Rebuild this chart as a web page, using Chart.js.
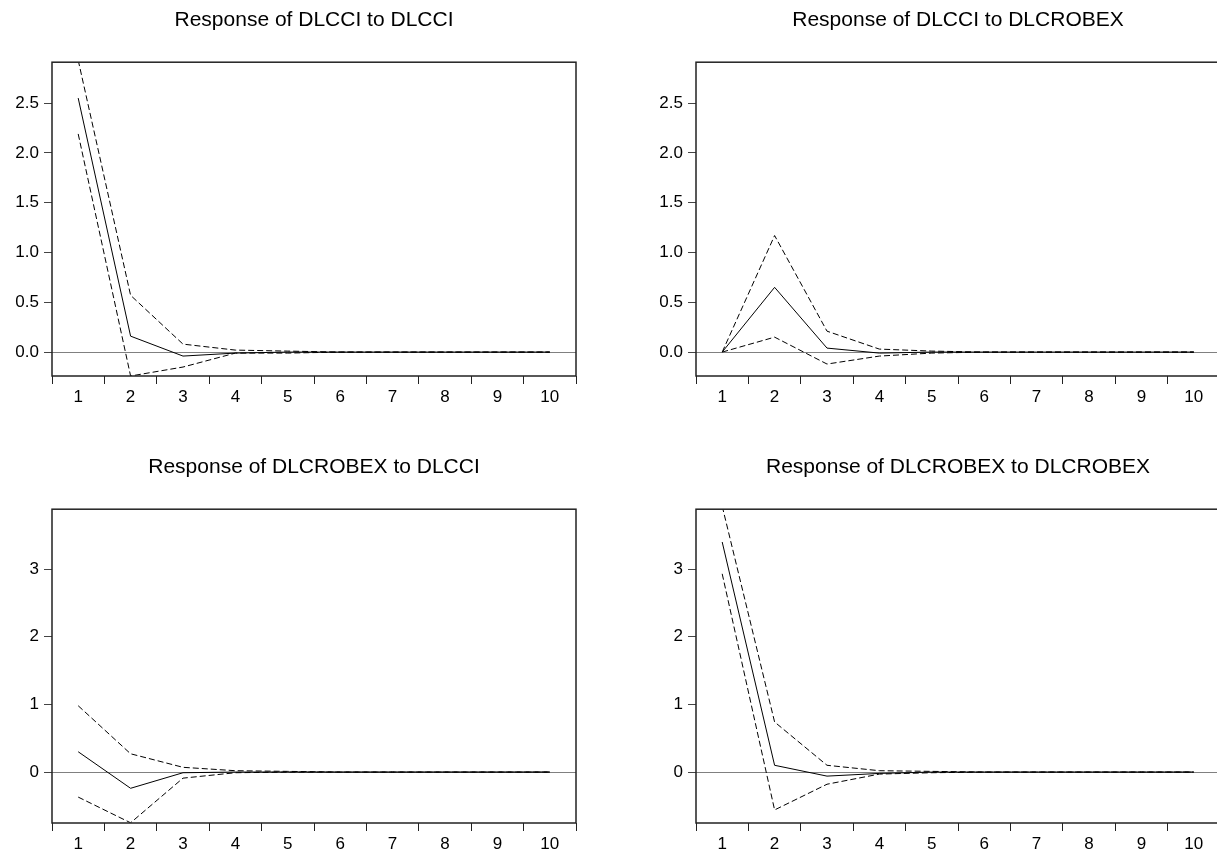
<!DOCTYPE html>
<html>
<head>
<meta charset="utf-8">
<script src="https://cdn.jsdelivr.net/npm/chart.js@4/dist/chart.umd.min.js"></script>
<style>
  html, body { margin: 0; padding: 0; background: #fff; overflow: hidden; }
  body { width: 1217px; height: 852px; position: relative; }
  canvas { position: absolute; }
</style>
</head>
<body>
<canvas id="c1" style="left:0;top:0"></canvas>
<canvas id="c2" style="left:644px;top:0"></canvas>
<canvas id="c3" style="left:0;top:447px"></canvas>
<canvas id="c4" style="left:644px;top:447px"></canvas>
<script>
const periods = ["1", "2", "3", "4", "5", "6", "7", "8", "9", "10"];

// Response of DLCCI to DLCCI
const resp11 = [2.55, 0.16, -0.04, -0.01, 0, 0, 0, 0, 0, 0];
const upper11 = [2.93, 0.57, 0.08, 0.02, 0.01, 0, 0, 0, 0, 0];
const lower11 = [2.19, -0.24, -0.15, -0.01, -0.01, 0, 0, 0, 0, 0];

// Response of DLCCI to DLCROBEX
const resp12 = [0, 0.65, 0.04, -0.01, 0, 0, 0, 0, 0, 0];
const upper12 = [0, 1.17, 0.21, 0.03, 0.01, 0, 0, 0, 0, 0];
const lower12 = [0, 0.15, -0.12, -0.04, -0.01, 0, 0, 0, 0, 0];

// Response of DLCROBEX to DLCCI
const resp21 = [0.30, -0.24, -0.01, 0, 0, 0, 0, 0, 0, 0];
const upper21 = [0.98, 0.27, 0.07, 0.02, 0.01, 0, 0, 0, 0, 0];
const lower21 = [-0.37, -0.75, -0.09, -0.01, 0, 0, 0, 0, 0, 0];

// Response of DLCROBEX to DLCROBEX
const resp22 = [3.40, 0.10, -0.06, -0.02, 0, 0, 0, 0, 0, 0];
const upper22 = [3.93, 0.74, 0.10, 0.02, 0.01, 0, 0, 0, 0, 0];
const lower22 = [2.93, -0.56, -0.18, -0.03, -0.01, 0, 0, 0, 0, 0];

const topRange = { min: -0.24, max: 2.91, step: 0.5, digits: 1 };
const bottomRange = { min: -0.753, max: 3.885, step: 1, digits: 0 };

const FONT = "'Liberation Sans', Arial, sans-serif";

const framePlugin = {
  id: "frame",
  afterDraw(chart) {
    const a = chart.chartArea;
    const ctx = chart.ctx;
    ctx.save();
    ctx.strokeStyle = "#222";
    ctx.lineWidth = 1.5;
    ctx.strokeRect(a.left, a.top, a.right - a.left, a.bottom - a.top);
    ctx.restore();
  },
};

function lineSet(data, dashed) {
  return {
    data: data,
    borderColor: "#000",
    borderWidth: 1,
    borderDash: dashed ? [6, 3] : [],
    pointRadius: 0,
    tension: 0,
    fill: false,
  };
}

function makeChart(id, title, resp, upper, lower, range) {
  const canvas = document.getElementById(id);
  canvas.width = 600;
  canvas.height = 430;
  canvas.style.width = "600px";
  canvas.style.height = "430px";

  return new Chart(canvas, {
    type: "line",
    data: {
      labels: periods,
      datasets: [
        lineSet(resp, false),
        lineSet(upper, true),
        lineSet(lower, true),
      ],
    },
    plugins: [framePlugin],
    options: {
      responsive: false,
      animation: false,
      layout: { padding: { left: 0, right: 24, top: 0, bottom: 0 } },
      plugins: {
        legend: { display: false },
        tooltip: { enabled: false },
        title: {
          display: true,
          text: title,
          fullSize: false,
          color: "#000",
          font: { family: FONT, size: 21, weight: "normal", lineHeight: 1.2 },
          padding: { top: 8, bottom: 29 },
        },
      },
      scales: {
        x: {
          type: "category",
          offset: true,
          afterFit: (s) => { s.height = 54; },
          border: { display: false },
          grid: {
            offset: true,
            drawOnChartArea: false,
            drawTicks: true,
            tickLength: 8,
            color: "#222",
            lineWidth: 1,
          },
          ticks: {
            color: "#000",
            padding: 3,
            maxRotation: 0,
            autoSkip: false,
            font: { family: FONT, size: 17 },
          },
        },
        y: {
          min: range.min,
          max: range.max,
          afterFit: (s) => { s.width = 52; },
          border: { display: false },
          grid: {
            drawTicks: true,
            tickLength: 8,
            color: (c) => (c.tick && c.tick.value === 0 ? "#808080" : "rgba(0,0,0,0)"),
            tickColor: "#444",
            lineWidth: 1,
          },
          ticks: {
            stepSize: range.step,
            includeBounds: false,
            color: "#000",
            padding: 5,
            font: { family: FONT, size: 17 },
            callback: (v) => Number(v).toFixed(range.digits),
          },
        },
      },
    },
  });
}

makeChart("c1", "Response of DLCCI to DLCCI", resp11, upper11, lower11, topRange);
makeChart("c2", "Response of DLCCI to DLCROBEX", resp12, upper12, lower12, topRange);
makeChart("c3", "Response of DLCROBEX to DLCCI", resp21, upper21, lower21, bottomRange);
makeChart("c4", "Response of DLCROBEX to DLCROBEX", resp22, upper22, lower22, bottomRange);
</script>
</body>
</html>
